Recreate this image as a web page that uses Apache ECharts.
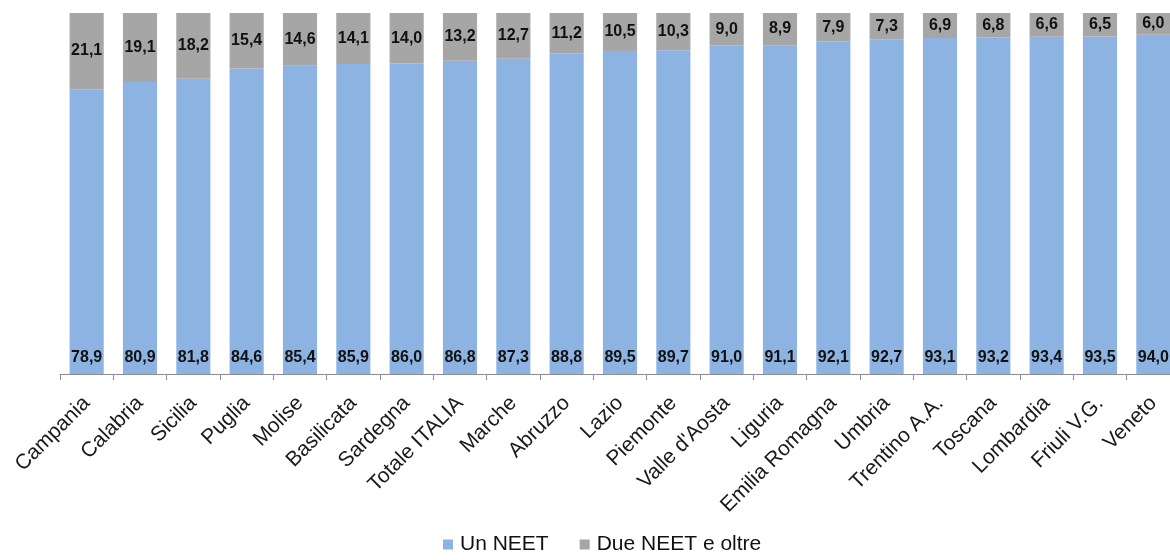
<!DOCTYPE html>
<html>
<head>
<meta charset="utf-8">
<script src="https://cdn.jsdelivr.net/npm/echarts@6/dist/echarts.min.js"></script>
<style>
  html, body { margin: 0; padding: 0; background: #fff; }
  #app { width: 1170px; height: 560px; }
</style>
</head>
<body>
<div id="app"></div>
<script>
const regioni = ['Campania', 'Calabria', 'Sicilia', 'Puglia', 'Molise', 'Basilicata', 'Sardegna',
  'Totale ITALIA', 'Marche', 'Abruzzo', 'Lazio', 'Piemonte', "Valle d'Aosta", 'Liguria',
  'Emilia Romagna', 'Umbria', 'Trentino A.A.', 'Toscana', 'Lombardia', 'Friuli V.G.', 'Veneto'];
const unNeet = [78.9, 80.9, 81.8, 84.6, 85.4, 85.9, 86.0, 86.8, 87.3, 88.8, 89.5,
  89.7, 91.0, 91.1, 92.1, 92.7, 93.1, 93.2, 93.4, 93.5, 94.0];
const dueNeet = [21.1, 19.1, 18.2, 15.4, 14.6, 14.1, 14.0, 13.2, 12.7, 11.2, 10.5,
  10.3, 9.0, 8.9, 7.9, 7.3, 6.9, 6.8, 6.6, 6.5, 6.0];

// valori con la virgola decimale
const fmt = p => p.value.toFixed(1).replace('.', ',');

const labelBase = {
  show: true,
  formatter: fmt,
  color: '#111',
  fontFamily: 'Arial, "Liberation Sans", sans-serif',
  fontWeight: 'bold',
  fontSize: 16
};

const option = {
  animation: false,
  textStyle: { fontFamily: 'Arial, "Liberation Sans", sans-serif' },
  // il grafico originale è tagliato a destra: la griglia esce dal riquadro
  grid: { left: 60, top: 13, width: 1120, bottom: 186, outerBoundsMode: 'none', containLabel: false },
  legend: {
    bottom: 0,
    left: 438,
    itemWidth: 10,
    itemHeight: 10,
    itemGap: 31,
    icon: 'rect',
    textStyle: { fontSize: 21, color: '#111', padding: [0, 0, 0, 2] },
    data: ['Un NEET', 'Due NEET e oltre']
  },
  xAxis: {
    type: 'category',
    data: regioni,
    axisLine: { lineStyle: { color: '#8c8c8c' } },
    axisTick: { show: true, length: 6, lineStyle: { color: '#8c8c8c' } },
    axisLabel: {
      rotate: 45,
      interval: 0,
      margin: 26,
      fontSize: 21,
      color: '#1a1a1a'
    }
  },
  yAxis: {
    type: 'value',
    min: 0,
    max: 100,
    show: false,
    splitLine: { show: false }
  },
  series: [
    {
      name: 'Un NEET',
      type: 'bar',
      stack: 'tot',
      barCategoryGap: '36%',
      data: unNeet,
      itemStyle: { color: '#8db3e2' },
      label: Object.assign({ position: 'insideBottom', distance: 8 }, labelBase)
    },
    {
      name: 'Due NEET e oltre',
      type: 'bar',
      stack: 'tot',
      data: dueNeet,
      itemStyle: { color: '#a6a6a6' },
      label: Object.assign({ position: 'inside' }, labelBase)
    }
  ]
};

echarts.init(document.getElementById('app')).setOption(option);
</script>
</body>
</html>
